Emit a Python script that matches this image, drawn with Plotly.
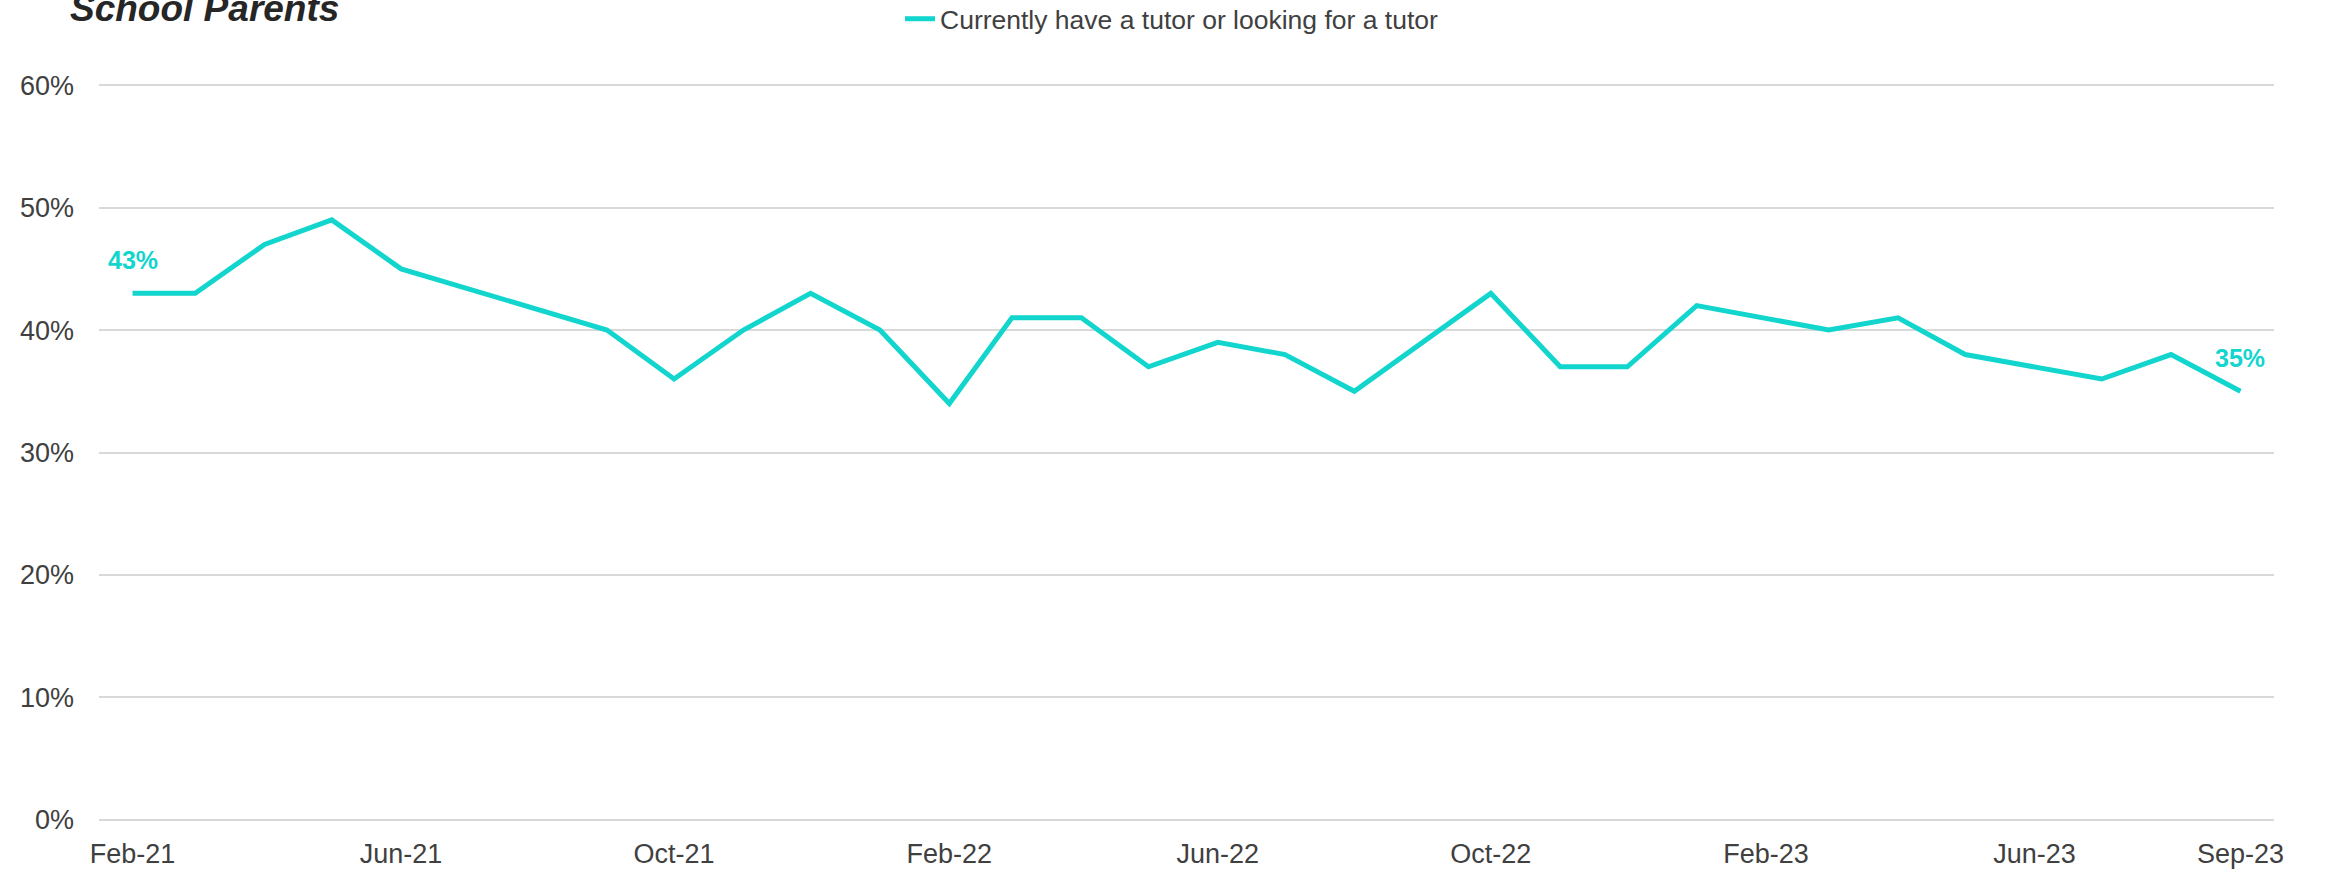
import plotly.graph_objects as go

# Survey months (first of month) and share of parents with / seeking a tutor (%)
months = ["2021-02-01", "2021-03-01", "2021-04-01", "2021-05-01", "2021-06-01",
          "2021-09-01", "2021-10-01", "2021-11-01", "2021-12-01", "2022-01-01",
          "2022-02-01", "2022-03-01", "2022-04-01", "2022-05-01", "2022-06-01",
          "2022-07-01", "2022-08-01", "2022-10-01", "2022-11-01", "2022-12-01",
          "2023-01-01", "2023-03-01", "2023-04-01", "2023-05-01", "2023-07-01",
          "2023-08-01", "2023-09-01"]
tutor_pct = [43, 43, 47, 49, 45, 40, 36, 40, 43, 40, 34, 41, 41, 37, 39, 38, 35,
             43, 37, 37, 42, 40, 41, 38, 36, 38, 35]

tick_months = ["2021-02-01", "2021-06-01", "2021-10-01", "2022-02-01", "2022-06-01",
               "2022-10-01", "2023-02-01", "2023-06-01", "2023-09-01"]
y_ticks = [0, 10, 20, 30, 40, 50, 60]

series_name = "Currently have a tutor or looking for a tutor"
title_text = "School Parents"

LINE = "#12D5CD"
TEXT = "#404040"
FONT = "Liberation Sans, Arial, sans-serif"

W, H = 2336, 871
M_L, M_R, M_T, M_B = 99, 62, 84, 50
plot_w = W - M_L - M_R
plot_h = H - M_T - M_B

fig = go.Figure()
fig.add_trace(go.Scatter(
    x=months, y=tutor_pct, mode="lines", name=series_name,
    line=dict(color=LINE, width=5),
    hoverinfo="skip",
))

# value labels on the first and last survey points
for i in (0, len(tutor_pct) - 1):
    fig.add_annotation(
        x=months[i], y=tutor_pct[i], xref="x", yref="y",
        text=f"{tutor_pct[i]}%", showarrow=False,
        yanchor="bottom", xanchor="center", yshift=17,
        font=dict(family=FONT, size=25, color=LINE, weight="bold"),
    )

# chart heading, partly above the page edge
fig.add_annotation(
    xref="paper", yref="paper",
    x=(68 - M_L) / plot_w, y=1 + (M_T - 8) / plot_h,
    xanchor="left", yanchor="middle",
    text=f"<b><i>{title_text}</i></b>", showarrow=False,
    font=dict(family=FONT, size=37, color="#262626"),
)

fig.update_layout(
    width=W, height=H,
    margin=dict(l=M_L, r=M_R, t=M_T, b=M_B, autoexpand=False),
    paper_bgcolor="white", plot_bgcolor="white",
    font=dict(family=FONT, color=TEXT, size=27),
    showlegend=True,
    legend=dict(
        orientation="h", x=(900 - M_L) / plot_w,
        yref="container", y=1 - 19 / H,
        xanchor="left", yanchor="middle",
        font=dict(family=FONT, size=26.5, color=TEXT),
        bgcolor="rgba(0,0,0,0)",
    ),
    xaxis=dict(
        type="date",
        range=["2021-01-17", "2023-09-16"],
        tickmode="array", tickvals=tick_months, tickformat="%b-%y",
        showgrid=False, zeroline=False, showline=False, ticks="",
        ticklabelstandoff=14,
        tickfont=dict(size=27, color=TEXT),
    ),
    yaxis=dict(
        range=[-0.1, 60.1],
        tickmode="array", tickvals=y_ticks,
        ticktext=[f"{v}%" for v in y_ticks],
        showgrid=True, gridcolor="#D9D9D9", gridwidth=1.5,
        zeroline=False, showline=False, ticks="",
        ticklabelstandoff=24,
        tickfont=dict(size=27, color=TEXT),
    ),
)

fig.write_html("out.html")
